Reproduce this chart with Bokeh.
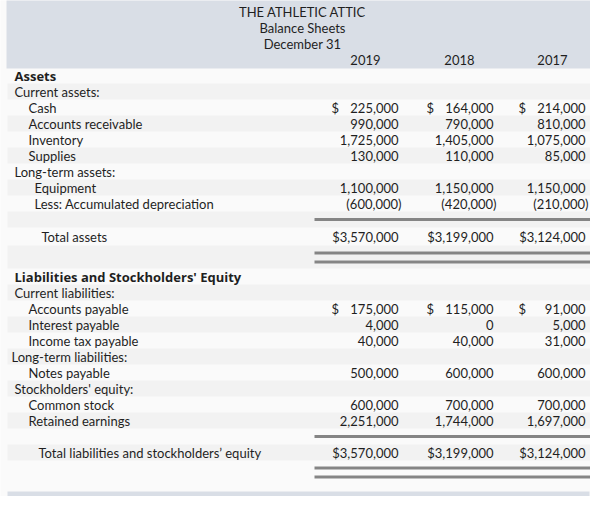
from bokeh.plotting import figure
from bokeh.models import Range1d, ColumnDataSource
from bokeh.embed import file_html
from bokeh.resources import INLINE
from bokeh.core.properties import value

# ---------------- data ----------------
title_lines = ["THE ATHLETIC ATTIC", "Balance Sheets", "December 31"]
years = ["2019", "2018", "2017"]

row_labels = [
    "Assets", "Current assets:", "Cash", "Accounts receivable", "Inventory", "Supplies",
    "Long-term assets:", "Equipment", "Less: Accumulated depreciation", "", "Total assets", "",
    "Liabilities and Stockholders' Equity", "Current liabilities:", "Accounts payable",
    "Interest payable", "Income tax payable", "Long-term liabilities:", "Notes payable",
    "Stockholders' equity:", "Common stock", "Retained earnings", "",
    "Total liabilities and stockholders\u2019 equity", "",
]
row_kind = [
    "section", "sub", "item", "item", "item", "item",
    "sub", "item2", "item2", "rule1", "total", "rule2",
    "section", "sub", "item",
    "item", "item", "sub_lt", "item",
    "sub", "item", "item", "rule1",
    "total2", "rule2",
]
dollar_rows = ["Cash", "Accounts payable"]

v2019 = [None, None, 225000, 990000, 1725000, 130000, None, 1100000, -600000, None, 3570000, None,
         None, None, 175000, 4000, 40000, None, 500000, None, 600000, 2251000, None, 3570000, None]
v2018 = [None, None, 164000, 790000, 1405000, 110000, None, 1150000, -420000, None, 3199000, None,
         None, None, 115000, 0, 40000, None, 600000, None, 700000, 1744000, None, 3199000, None]
v2017 = [None, None, 214000, 810000, 1075000, 85000, None, 1150000, -210000, None, 3124000, None,
         None, None, 91000, 5000, 31000, None, 600000, None, 700000, 1697000, None, 3124000, None]
values_by_year = [v2019, v2018, v2017]

# ---------------- layout / style ----------------
FONT = "Lato"
BOLD_FONT = "Open Sans"
FS = "13px"
TXT = "#1f1f1f"
BG = "#fafafa"
STRIPE = "#f2f2f2"
HEAD = "#d9dee6"
RULE = "#858585"

indent = {"section": 14, "sub": 14, "sub_lt": 11, "item": 28, "item2": 34,
          "total": 41, "total2": 38, "rule1": 0, "rule2": 0}
height = {"total": 18, "rule2": 23}
col_right = [398, 493, 585]
year_right = [380, 474, 567]
rule_left, rule_right = 314, 597
table_left, table_right = 7, 597

W, H = 590, 496
p = figure(width=W, height=H, output_backend="svg", toolbar_location=None,
           x_range=Range1d(0, W), y_range=Range1d(H, 0),
           x_axis_location=None, y_axis_location=None, min_border=0)
p.grid.visible = False
p.outline_line_color = None
p.background_fill_color = BG
p.border_fill_color = BG

# header band
p.quad(left=[6], right=[600], top=[-2], bottom=[68], fill_color=HEAD, line_color=None)
p.text(x=[302] * 3, y=[11.5, 27.5, 43.5], text=title_lines, text_align="center",
       text_baseline="middle", text_font=value(FONT), text_font_size=FS, text_color=TXT)
p.text(x=year_right, y=[59.5] * 3, text=years, text_align="right",
       text_baseline="middle", text_font=value(FONT), text_font_size=FS, text_color=TXT)

# rows
tops, bottoms, centers = [], [], []
y = 67
for k in row_kind:
    h = height.get(k, 16)
    tops.append(y)
    bottoms.append(y + h)
    centers.append(y + h / 2)
    y += h

sl = [i for i in range(len(row_kind)) if i % 2 == 1]
p.quad(left=[table_left] * len(sl), right=[table_right] * len(sl),
       top=[tops[i] for i in sl], bottom=[bottoms[i] for i in sl],
       fill_color=STRIPE, line_color=None)

# bottom band
p.quad(left=[7], right=[589], top=[491], bottom=[498], fill_color=HEAD, line_color=None)

# rules
ys = []
for i, k in enumerate(row_kind):
    if k == "rule1":
        ys.append(centers[i])
    elif k == "rule2":
        ys += [tops[i] + 7.5, tops[i] + 16.5]
p.segment(x0=[rule_left] * len(ys), y0=ys, x1=[rule_right] * len(ys), y1=ys,
          line_color=RULE, line_width=3)

# labels
norm = [i for i, k in enumerate(row_kind) if row_labels[i] and k != "section"]
bold = [i for i, k in enumerate(row_kind) if k == "section"]
src = ColumnDataSource(dict(
    x=[indent[row_kind[i]] for i in norm],
    y=[centers[i] + 0.5 for i in norm],
    t=[row_labels[i] for i in norm]))
p.text(x="x", y="y", text="t", source=src, text_align="left", text_baseline="middle",
       text_font=value(FONT), text_font_size=FS, text_color=TXT)
srcb = ColumnDataSource(dict(
    x=[indent[row_kind[i]] for i in bold],
    y=[centers[i] + 0.5 for i in bold],
    t=[row_labels[i] for i in bold]))
p.text(x="x", y="y", text="t", source=srcb, text_align="left", text_baseline="middle",
       text_font=value(BOLD_FONT), text_font_size="13px", text_font_style="bold",
       text_color=TXT)

# values
vx, vy, vt = [], [], []
dx, dy = [], []
for c, vals in enumerate(values_by_year):
    for i, v in enumerate(vals):
        if v is None:
            continue
        s = f"{abs(v):,}"
        xr = col_right[c]
        if v < 0:
            s = f"({s})"
            xr += 3
        if row_kind[i] in ("total", "total2"):
            s = "$" + s
        vx.append(xr)
        vy.append(centers[i] + 0.5)
        vt.append(s)
        if row_labels[i] in dollar_rows:
            dx.append(col_right[c] - 67)
            dy.append(centers[i] + 0.5)
p.text(x=vx, y=vy, text=vt, text_align="right", text_baseline="middle",
       text_font=value(FONT), text_font_size=FS, text_color=TXT)
p.text(x=dx, y=dy, text=["$"] * len(dx), text_align="left", text_baseline="middle",
       text_font=value(FONT), text_font_size=FS, text_color=TXT)

open("out.html", "w").write(file_html(p, INLINE))
